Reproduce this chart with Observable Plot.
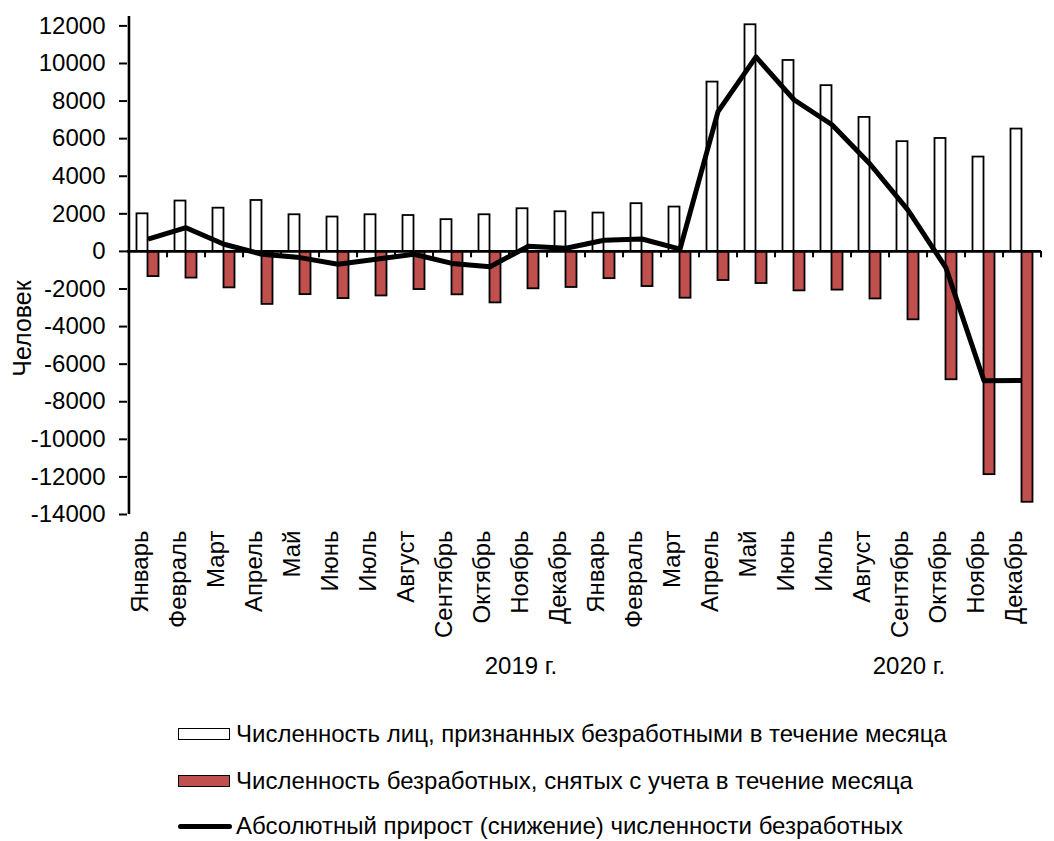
<!DOCTYPE html>
<html><head><meta charset="utf-8">
<script src="https://cdn.jsdelivr.net/npm/d3@7"></script>
<script src="https://cdn.jsdelivr.net/npm/@observablehq/plot@0.6"></script>
<style>
body{margin:0;background:#fff;font-family:"Liberation Sans",Arial,sans-serif;}
#wrap{position:relative;width:1054px;height:841px;overflow:hidden;background:#fff}
#chart{position:absolute;left:0;top:0}
.leg{position:absolute;left:178px;display:flex;align-items:center;font-size:24px;color:#000;white-space:nowrap;line-height:1}
.sw{width:50px;height:10px;border:1.5px solid #000;margin-right:6px;box-sizing:content-box}
.ln{width:54px;height:5px;border-radius:3px;background:#000;margin-right:4px}
</style></head><body><div id="wrap"><div id="chart"></div></div>
<script>
const years = ["2019 г.", "2020 г."];
const yearAt = ["2019-11", "2020-09"];
const months = ["Январь","Февраль","Март","Апрель","Май","Июнь","Июль","Август","Сентябрь","Октябрь","Ноябрь","Декабрь",
                "Январь","Февраль","Март","Апрель","Май","Июнь","Июль","Август","Сентябрь","Октябрь","Ноябрь","Декабрь"];
const keys = ["2019-01","2019-02","2019-03","2019-04","2019-05","2019-06","2019-07","2019-08","2019-09","2019-10","2019-11","2019-12",
              "2020-01","2020-02","2020-03","2020-04","2020-05","2020-06","2020-07","2020-08","2020-09","2020-10","2020-11","2020-12"];
const registered = [2000, 2680, 2300, 2710, 1950, 1830, 1950, 1910, 1690, 1950, 2270, 2110,
                    2040, 2540, 2360, 9010, 12060, 10160, 8820, 7130, 5840, 6010, 5020, 6510];
const removed = [-1340, -1420, -1940, -2820, -2300, -2510, -2370, -2030, -2310, -2740, -1990, -1920,
                 -1450, -1870, -2490, -1550, -1710, -2100, -2060, -2530, -3640, -6830, -11880, -13350];
const net = [650, 1260, 380, -150, -330, -680, -420, -150, -640, -820, 270, 170,
             590, 660, 120, 7440, 10350, 8070, 6740, 4650, 2200, -880, -6880, -6870];
const yTicks = d3.range(-14000, 12001, 2000);
const yTitle = "Человек";
const legendLabels = ["Численность лиц, признанных безработными в течение месяца",
                      "Численность безработных, снятых с учета в течение месяца",
                      "Абсолютный прирост (снижение) численности безработных"];

const W = 1054, H = 700, ML = 127, MR = 13, MT = 16, MB = 186;
const step = (W - ML - MR) / keys.length;
const barW = 11;
const pad = 1 - barW / step;

const rows = keys.map((k, i) => ({key: k, month: months[i], reg: registered[i], rem: removed[i], net: net[i]}));

const plot = Plot.plot({
  width: W, height: H,
  marginLeft: ML, marginRight: MR, marginTop: MT, marginBottom: MB,
  style: {fontFamily: '"Liberation Sans", Arial, sans-serif', fontSize: "24px", color: "#000", background: "#fff"},
  x: {domain: keys, paddingInner: pad, paddingOuter: pad / 2, axis: null},
  y: {domain: [-14000, 12500], axis: null},
  marks: [
    Plot.barY(rows, {x: "key", y: "reg", dx: -barW / 2, fill: "#fff", stroke: "#000", strokeWidth: 1.8}),
    Plot.barY(rows, {x: "key", y: "rem", dx: barW / 2, fill: "#C0504D", stroke: "#000", strokeWidth: 1.8}),
    Plot.ruleY([0], {stroke: "#000", strokeWidth: 2.6}),
    Plot.ruleX(keys, {x: d => d, dx: step / 2, y1: 0, y2: -340, stroke: "#000", strokeWidth: 2}),
    Plot.ruleX([keys[0]], {x: d => d, dx: -step / 2, y1: -14000, y2: 12500, stroke: "#000", strokeWidth: 2.6}),
    Plot.axisY({ticks: yTicks, tickFormat: d => String(d), tickSize: 8, tickPadding: 14, strokeWidth: 2, fontSize: 24, anchor: "left", label: null}),
    Plot.lineY(rows, {x: "key", y: "net", stroke: "#000", strokeWidth: 5, strokeLinejoin: "round", strokeLinecap: "butt"}),
    Plot.text(rows, {x: "key", text: "month", frameAnchor: "bottom", rotate: -90, textAnchor: "end", dy: 16, fontSize: 24}),
    Plot.text([years[0]], {x: () => yearAt[0], text: d => d, dx: -7, frameAnchor: "bottom", dy: 159, fontSize: 24}),
    Plot.text([years[1]], {x: () => yearAt[1], text: d => d, dx: 1, frameAnchor: "bottom", dy: 159, fontSize: 24}),
    Plot.text([yTitle], {text: d => d, frameAnchor: "left", textAnchor: "middle", rotate: -90, dx: -105, dy: 63, fontSize: 25})
  ]
});
document.getElementById("chart").appendChild(plot);

const wrap = document.getElementById("wrap");
const tops = [734, 781, 826];
legendLabels.forEach((t, i) => {
  const row = document.createElement("div");
  row.className = "leg";
  row.style.top = (tops[i] - 13) + "px";
  row.style.height = "26px";
  const sw = document.createElement("div");
  if (i === 0) { sw.className = "sw"; sw.style.background = "#fff"; }
  else if (i === 1) { sw.className = "sw"; sw.style.background = "#C0504D"; }
  else { sw.className = "ln"; }
  row.appendChild(sw);
  const tx = document.createElement("span");
  tx.textContent = t;
  row.appendChild(tx);
  wrap.appendChild(row);
});
</script>
</body></html>
